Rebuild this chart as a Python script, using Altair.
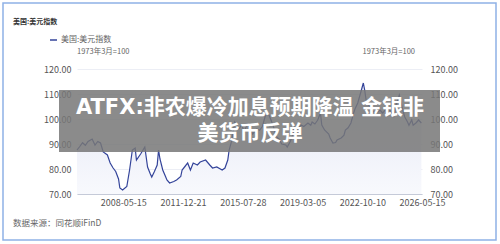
import altair as alt
import pandas as pd

# ---- data ----
dates = ["2005-08","2005-10","2005-12","2006-02","2006-04","2006-07","2006-09","2006-11","2007-01","2007-03",
         "2007-06","2007-08","2007-10","2007-12","2008-02","2008-03","2008-05","2008-08","2008-10","2008-12",
         "2009-02","2009-03","2009-06","2009-09","2009-11","2010-01","2010-02","2010-04","2010-06","2010-07",
         "2010-08","2010-10","2010-12","2011-01","2011-03","2011-06","2011-08","2011-11","2011-12","2012-02",
         "2012-04","2012-06","2012-08","2012-11","2013-01","2013-05","2013-08","2013-10","2014-01","2014-05",
         "2014-07","2014-09","2014-10","2014-12","2015-01","2015-02","2015-05","2015-07","2015-09","2015-11",
         "2016-01","2016-03","2016-06","2016-08","2016-10","2016-12","2017-02","2017-04","2017-06","2017-08",
         "2017-10","2017-12","2018-03","2018-04","2018-06","2018-08","2018-09","2018-11","2019-02","2019-04",
         "2019-07","2019-09","2019-10","2019-12","2020-02","2020-04","2020-05","2020-07","2020-10","2020-11",
         "2021-01","2021-03","2021-04","2021-07","2021-09","2021-10","2021-12","2022-02","2022-04","2022-05",
         "2022-07","2022-09","2022-11","2022-12","2023-01","2023-03","2023-04","2023-06","2023-08","2023-10",
         "2023-11","2024-01","2024-04","2024-06","2024-09","2024-11","2025-01","2025-03","2025-05","2025-07",
         "2025-08","2025-10","2025-11","2026-01","2026-03","2026-05"]
dxy = [87.6, 89, 90.5, 89.5, 91, 92, 89.6, 91, 90.4, 86.8,
       85.6, 82.4, 80.5, 79, 76, 72.4, 71.6, 73, 79.6, 87.6,
       88.4, 83.6, 86, 88.8, 80.8, 78, 76.8, 79, 81.6, 87.6,
       84, 79.6, 77, 75.6, 74.4, 75, 75.6, 77, 79.6, 81,
       82.4, 79.6, 82.4, 81.6, 82.8, 83.6, 81.6, 80.4, 80.8, 79.6,
       80.4, 83.6, 87.6, 91.6, 95.6, 98.8, 96, 97.5, 95, 98,
       96.5, 94, 96, 95.5, 97, 101, 102.5, 100, 97, 93,
       92, 90, 89.6, 88.8, 90.8, 93.6, 96.8, 96, 97.6, 97,
       98.4, 97.5, 98.8, 98, 99.6, 102.4, 97.6, 95.6, 94, 92.4,
       90.4, 90.6, 91.6, 92.4, 93.5, 95.6, 96.5, 98.4, 102.4, 104,
       106.4, 110.4, 114.4, 111.6, 107.6, 105.5, 104.8, 103, 102.4, 103,
       103.6, 102.4, 104.5, 103.6, 101, 106.4, 109.6, 104.8, 100.8, 98.8,
       97.5, 99.6, 97.5, 98.4, 99.6, 98.4]
y_ticks = [70, 80, 90, 100, 110, 120]
x_tick_labels = ["2008-05-15", "2011-12-21", "2015-07-28", "2019-03-05", "2022-10-10", "2026-05-15"]

series_name = "美国:美元指数"
unit_text = "1973年3月=100"
source_text = "数据来源：同花顺iFinD"
banner_lines = ["ATFX:非农爆冷加息预期降温 金银非", "美货币反弹"]

df = pd.DataFrame({"date": pd.to_datetime(dates), "v": dxy, "base": 70})

FONT = "Noto Sans CJK SC"
LINE = "#34449a"

def dt(s):
    y, m, d = [int(p) for p in s.split("-")]
    return alt.DateTime(year=y, month=m, date=d)

xscale = alt.Scale(domain=[alt.DateTime(year=2005, month=8, date=1), dt("2026-05-15")])

def xaxis():
    return alt.Axis(values=[dt(s) for s in x_tick_labels], format="%Y-%m-%d", title=None,
                    ticks=False, grid=False, domainColor="#c5cad8", labelColor="#555555",
                    labelFontSize=9, labelFont=FONT, labelPadding=4, labelFlush=False)

area = alt.Chart(df).mark_area(
    color=alt.Gradient(gradient="linear",
                       stops=[alt.GradientStop(color="#e4e7f5", offset=0),
                              alt.GradientStop(color="#f8f9fd", offset=1)],
                       x1=1, x2=1, y1=0, y2=1)
).encode(
    x=alt.X("date:T", scale=xscale, axis=xaxis()),
    y=alt.Y("v:Q", scale=alt.Scale(domain=[70, 120], nice=False, zero=False),
            axis=alt.Axis(values=y_ticks, format=".2f", title=None, orient="left", domain=False,
                          ticks=False, gridColor="#eceef5", labelColor="#555555", labelFontSize=9,
                          labelFont=FONT, labelPadding=6)),
    y2="base:Q",
)

line = alt.Chart(df).mark_line(color=LINE, strokeWidth=1.2).encode(
    x=alt.X("date:T", scale=xscale, axis=xaxis()),
    y=alt.Y("v:Q", scale=alt.Scale(domain=[70, 120], nice=False, zero=False),
            axis=alt.Axis(values=y_ticks, format=".2f", title=None, orient="right", domain=False,
                          ticks=False, grid=False, labelColor="#555555", labelFontSize=9,
                          labelFont=FONT, labelPadding=8)),
)

one = pd.DataFrame({"k": [0]})

def txt(text, x, y, size, color, align="left", weight="normal"):
    return alt.Chart(pd.DataFrame({"t": [text]})).mark_text(
        align=align, baseline="middle", fontSize=size, color=color, font=FONT, fontWeight=weight
    ).encode(x=alt.value(x), y=alt.value(y), text="t:N")

border = alt.Chart(one).mark_rect(fill=None, stroke="#8fb1e6", strokeWidth=1.5).encode(
    x=alt.value(-74), x2=alt.value(419), y=alt.value(-66), y2=alt.value(171))

legend_line = alt.Chart(one).mark_rule(color=LINE, strokeWidth=1.5).encode(
    x=alt.value(-27), x2=alt.value(-20), y=alt.value(-29))

banner = alt.Chart(one).mark_rect(fill="#777777", opacity=0.85).encode(
    x=alt.value(-18), x2=alt.value(363), y=alt.value(21), y2=alt.value(83))

banner_text = alt.Chart(pd.DataFrame({"t": [banner_lines]})).mark_text(
    align="center", baseline="middle", fontSize=21, fontWeight="bold", color="white",
    font="DejaVu Sans, Noto Sans CJK SC", lineHeight=26
).encode(x=alt.value(173), y=alt.value(39), text="t")

chart = alt.layer(
    border,
    area,
    line,
    banner,
    banner_text,
    txt(series_name, -64, -47, 7, "#333333", weight="bold"),
    legend_line,
    txt(series_name, -16, -29, 8, "#666666"),
    txt(unit_text, 0, -17, 7.5, "#666666"),
    txt(unit_text, 338, -17, 7.5, "#666666", align="right"),
    txt(source_text, -64, 154, 8.5, "#666666"),
).resolve_scale(y="independent").properties(
    width=345, height=125,
    autosize=alt.AutoSizeParams(type="none"),
    padding={"left": 77, "top": 69, "right": 78, "bottom": 50},
    background="white",
).configure_view(stroke=None)

chart.save("out.html", embed_options={"renderer": "svg", "actions": False})
